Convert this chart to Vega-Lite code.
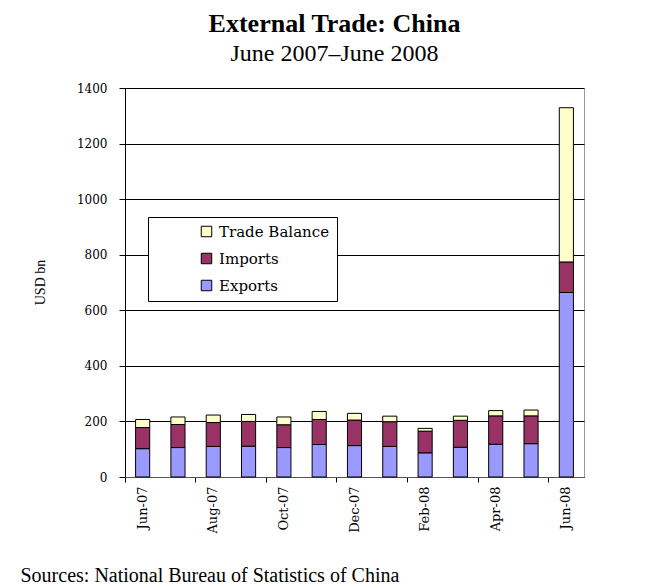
{
  "$schema": "https://vega.github.io/schema/vega-lite/v6.json",
  "width": 459,
  "height": 389,
  "autosize": {"type": "none"},
  "padding": {"left": 125, "top": 88, "right": 63, "bottom": 111},
  "background": "white",
  "title": {
    "text": "External Trade: China",
    "subtitle": "June 2007\u2013June 2008",
    "font": "Liberation Serif",
    "fontSize": 26,
    "fontWeight": "bold",
    "color": "black",
    "subtitleFont": "Liberation Serif",
    "subtitleFontSize": 24,
    "subtitleColor": "black",
    "subtitlePadding": 5,
    "anchor": "middle",
    "frame": "group",
    "dx": -20,
    "offset": 16
  },
  "data": {
    "values": [
      {"month": "Jun-07", "series": "Exports", "value": 102, "ord": 1},
      {"month": "Jun-07", "series": "Imports", "value": 76, "ord": 2},
      {"month": "Jun-07", "series": "Trade Balance", "value": 29, "ord": 3},
      {"month": "Jul-07", "series": "Exports", "value": 106, "ord": 1},
      {"month": "Jul-07", "series": "Imports", "value": 83, "ord": 2},
      {"month": "Jul-07", "series": "Trade Balance", "value": 27, "ord": 3},
      {"month": "Aug-07", "series": "Exports", "value": 110, "ord": 1},
      {"month": "Aug-07", "series": "Imports", "value": 86, "ord": 2},
      {"month": "Aug-07", "series": "Trade Balance", "value": 27, "ord": 3},
      {"month": "Sep-07", "series": "Exports", "value": 111, "ord": 1},
      {"month": "Sep-07", "series": "Imports", "value": 89, "ord": 2},
      {"month": "Sep-07", "series": "Trade Balance", "value": 25, "ord": 3},
      {"month": "Oct-07", "series": "Exports", "value": 106, "ord": 1},
      {"month": "Oct-07", "series": "Imports", "value": 82, "ord": 2},
      {"month": "Oct-07", "series": "Trade Balance", "value": 28, "ord": 3},
      {"month": "Nov-07", "series": "Exports", "value": 117, "ord": 1},
      {"month": "Nov-07", "series": "Imports", "value": 90, "ord": 2},
      {"month": "Nov-07", "series": "Trade Balance", "value": 29, "ord": 3},
      {"month": "Dec-07", "series": "Exports", "value": 113, "ord": 1},
      {"month": "Dec-07", "series": "Imports", "value": 92, "ord": 2},
      {"month": "Dec-07", "series": "Trade Balance", "value": 24, "ord": 3},
      {"month": "Jan-08", "series": "Exports", "value": 110, "ord": 1},
      {"month": "Jan-08", "series": "Imports", "value": 89, "ord": 2},
      {"month": "Jan-08", "series": "Trade Balance", "value": 20, "ord": 3},
      {"month": "Feb-08", "series": "Exports", "value": 87, "ord": 1},
      {"month": "Feb-08", "series": "Imports", "value": 78, "ord": 2},
      {"month": "Feb-08", "series": "Trade Balance", "value": 10, "ord": 3},
      {"month": "Mar-08", "series": "Exports", "value": 107, "ord": 1},
      {"month": "Mar-08", "series": "Imports", "value": 97, "ord": 2},
      {"month": "Mar-08", "series": "Trade Balance", "value": 15, "ord": 3},
      {"month": "Apr-08", "series": "Exports", "value": 118, "ord": 1},
      {"month": "Apr-08", "series": "Imports", "value": 102, "ord": 2},
      {"month": "Apr-08", "series": "Trade Balance", "value": 19, "ord": 3},
      {"month": "May-08", "series": "Exports", "value": 120, "ord": 1},
      {"month": "May-08", "series": "Imports", "value": 100, "ord": 2},
      {"month": "May-08", "series": "Trade Balance", "value": 21, "ord": 3},
      {"month": "Jun-08", "series": "Exports", "value": 664, "ord": 1},
      {"month": "Jun-08", "series": "Imports", "value": 110, "ord": 2},
      {"month": "Jun-08", "series": "Trade Balance", "value": 555, "ord": 3}
    ]
  },
  "mark": {"type": "bar", "width": {"band": 0.4}, "stroke": "black", "strokeWidth": 1},
  "encoding": {
    "x": {
      "field": "month",
      "type": "ordinal",
      "sort": null,
      "scale": {"paddingInner": 0, "paddingOuter": 0},
      "axis": {
        "title": "Sources: National Bureau of Statistics of China",
        "titleFont": "Liberation Serif",
        "titleFontSize": 20,
        "titleFontWeight": "normal",
        "titleColor": "black",
        "titleAnchor": "start",
        "titleAlign": "left",
        "titleBaseline": "alphabetic",
        "titleX": -105,
        "titleY": 104,
        "values": ["Jun-07", "Aug-07", "Oct-07", "Dec-07", "Feb-08", "Apr-08", "Jun-08"],
        "bandPosition": 0,
        "labelAngle": -90,
        "labelFont": "DejaVu Serif",
        "labelFontSize": 13,
        "labelColor": "black",
        "labelPadding": 4,
        "tickColor": "black",
        "tickSize": 5,
        "domainColor": "#555",
        "grid": false
      }
    },
    "y": {
      "field": "value",
      "type": "quantitative",
      "stack": "zero",
      "scale": {"domain": [0, 1400], "nice": false},
      "axis": {
        "title": "USD bn",
        "titleFont": "Liberation Serif",
        "titleFontSize": 14,
        "titleFontWeight": "normal",
        "titleColor": "black",
        "titleX": -85,
        "titleY": 194,
        "titleAlign": "center",
        "titleBaseline": "middle",
        "titleAngle": -90,
        "values": [0, 200, 400, 600, 800, 1000, 1200, 1400],
        "format": "d",
        "labelFont": "DejaVu Serif",
        "labelFontSize": 12,
        "labelColor": "black",
        "labelPadding": 12,
        "tickColor": "black",
        "tickSize": 6,
        "domainColor": "black",
        "grid": true,
        "gridColor": "black",
        "gridOpacity": 1
      }
    },
    "color": {
      "field": "series",
      "type": "nominal",
      "scale": {
        "domain": ["Trade Balance", "Imports", "Exports"],
        "range": ["#FFFFCC", "#993366", "#9999FF"]
      },
      "legend": {
        "title": null,
        "orient": "none",
        "legendX": 23,
        "legendY": 129,
        "strokeColor": "black",
        "fillColor": "white",
        "padding": 7,
        "symbolType": "square",
        "symbolSize": 110,
        "symbolStrokeColor": "black",
        "symbolStrokeWidth": 1,
        "symbolOffset": 44,
        "labelFont": "DejaVu Serif",
        "labelFontSize": 15,
        "labelColor": "black",
        "labelOffset": 5,
        "labelLimit": 300,
        "rowPadding": 11
      }
    },
    "order": {"field": "ord", "type": "quantitative"}
  },
  "config": {
    "view": {"stroke": "#999", "strokeWidth": 1}
  }
}
